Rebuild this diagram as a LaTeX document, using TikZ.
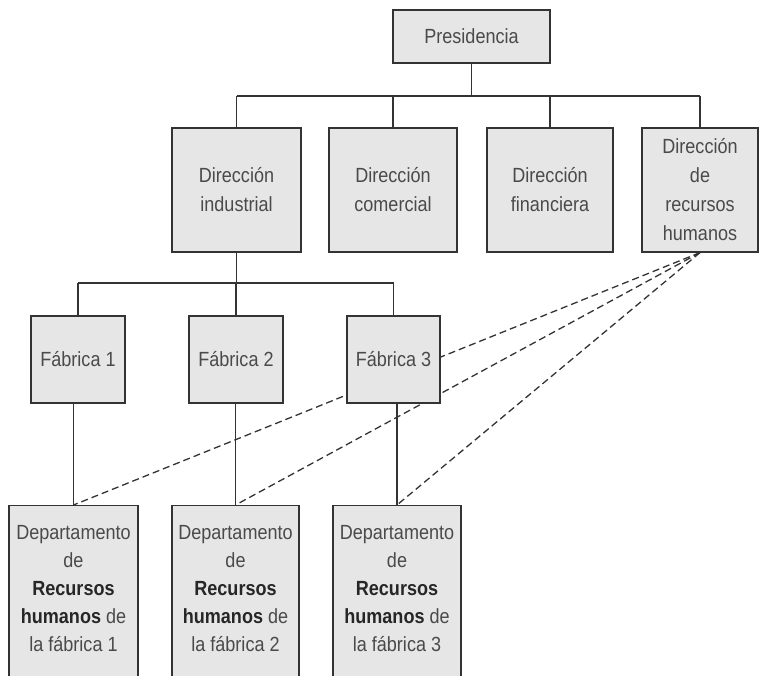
\documentclass[tikz,border=0pt]{standalone}
\usepackage{fontspec}
\setmainfont{Liberation Sans}[FakeStretch=0.88]
\usetikzlibrary{backgrounds}
\definecolor{boxfill}{HTML}{E6E6E6}
\definecolor{txt}{HTML}{4A4A4A}
\definecolor{ln}{HTML}{333333}
\tikzset{
  orgbox/.style={draw=ln, line width=1.2pt, fill=boxfill, text=txt, align=center,
    font=\fontsize{20.5}{29}\selectfont, inner sep=0pt},
  conn/.style={draw=ln, line width=1.2pt},
  dashconn/.style={draw=ln, line width=1.3pt, dash pattern=on 7pt off 4pt},
  dtext/.style={text=txt, align=center, font=\fontsize{20.5}{28}\selectfont, inner sep=0pt, anchor=north}
}
\newcommand{\bk}[1]{\textcolor{black!85}{\textbf{#1}}}
\begin{document}
\begin{tikzpicture}[x=1pt,y=1pt]
\clip (0,0) rectangle (759,675);
% top
\node[orgbox, minimum width=157pt, minimum height=53pt] (pres) at (471.5,638.5) {Presidencia};
% direcciones
\node[orgbox, minimum width=129pt, minimum height=124pt] (ind) at (236.5,485) {Dirección\\industrial};
\node[orgbox, minimum width=128pt, minimum height=124pt] (com) at (393,485) {Dirección\\comercial};
\node[orgbox, minimum width=126pt, minimum height=124pt] (fin) at (550,485) {Dirección\\financiera};
\node[orgbox, minimum width=116pt, minimum height=124pt] (rh) at (700,485) {Dirección\\de\\recursos\\humanos};
% fabricas
\node[orgbox, minimum width=94pt, minimum height=87pt] (f1) at (78,315.5) {Fábrica 1};
\node[orgbox, minimum width=94pt, minimum height=87pt] (f2) at (236,315.5) {Fábrica 2};
\node[orgbox, minimum width=93pt, minimum height=87pt] (f3) at (393.5,315.5) {Fábrica 3};
% departamentos
\node[orgbox, minimum width=129pt, minimum height=200pt, anchor=north] (d1) at (73.5,170) {};
\node[orgbox, minimum width=127pt, minimum height=200pt, anchor=north] (d2) at (235.5,170) {};
\node[orgbox, minimum width=128pt, minimum height=200pt, anchor=north] (d3) at (397,170) {};
\node[dtext] (t1) at ([yshift=-20pt]d1.north) {Departamento\\de\\\bk{Recursos}\\\bk{humanos} de\\la fábrica 1};
\node[dtext] (t2) at ([yshift=-20pt]d2.north) {Departamento\\de\\\bk{Recursos}\\\bk{humanos} de\\la fábrica 2};
\node[dtext] (t3) at ([yshift=-20pt]d3.north) {Departamento\\de\\\bk{Recursos}\\\bk{humanos} de\\la fábrica 3};
% bus coordinates
\coordinate (bus1) at (0,579);
\coordinate (bus2) at (0,392);
% solid connectors
\draw[conn] (pres.south) -- (pres.south |- bus1);
\draw[conn] (ind.north |- bus1) -- (rh.north |- bus1);
\draw[conn] (ind.north |- bus1) -- (ind.north);
\draw[conn] (com.north |- bus1) -- (com.north);
\draw[conn] (fin.north |- bus1) -- (fin.north);
\draw[conn] (rh.north |- bus1) -- (rh.north);
\draw[conn] (ind.south) -- (ind.south |- bus2);
\draw[conn] (f1.north |- bus2) -- (f3.north |- bus2);
\draw[conn] (f1.north |- bus2) -- (f1.north);
\draw[conn] (f2.north |- bus2) -- (f2.north);
\draw[conn] (f3.north |- bus2) -- (f3.north);
\draw[conn] (d1.north |- f1.south) -- (d1.north);
\draw[conn] (d2.north |- f2.south) -- (d2.north);
\draw[conn] (d3.north |- f3.south) -- (d3.north);
% dashed connectors behind boxes
\begin{pgfonlayer}{background}
\draw[dashconn] (rh.south) -- (d1.north);
\draw[dashconn] (rh.south) -- (d2.north);
\draw[dashconn] (rh.south) -- (d3.north);
\end{pgfonlayer}
\end{tikzpicture}
\end{document}
